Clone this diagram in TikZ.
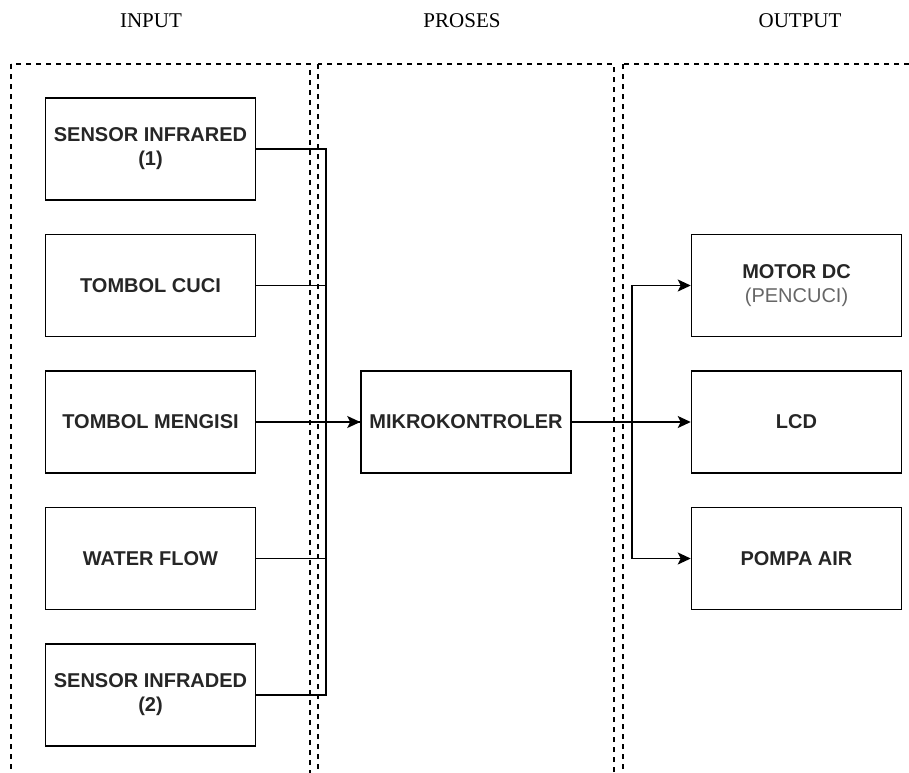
\documentclass[tikz,border=0pt]{standalone}
\usepackage{fontspec}
\setmainfont{Liberation Serif}
\setsansfont{Liberation Sans}
\usepackage{tikz}
\usetikzlibrary{arrows.meta,positioning}
\tikzset{
    kotak/.style={
        rectangle,
        draw,
        line width=1.5pt,
        align=center,
        minimum width=210pt,
        minimum height=102pt,
        inner sep=2pt,
        text=black!85,
        font=\sffamily\bfseries\fontsize{20}{24}\selectfont
    },
    judul/.style={font=\fontsize{21}{25}\selectfont},
    panel/.style={draw, line width=1.3pt, dash pattern=on 5pt off 5pt},
    garis/.style={line width=1.6pt},
    panah/.style={garis, -{Stealth[length=13pt, width=12pt, inset=3pt]}}
}

\begin{document}
\begin{tikzpicture}[
        x=1pt, y=-1pt,
        node distance=33pt and 104pt
    ]
        \useasboundingbox (0,0) rectangle (909,772);
        \clip (0,0) rectangle (909,772);

        % kolom
        \draw[panel] (11,64) rectangle (310,800);
        \draw[panel] (318,64) rectangle (614,800);
        \draw[panel] (623,64) rectangle (990,800);
        \node[judul] (jinput) at (151,21) {INPUT};
        \node[judul] (jproses) at (462,21) {PROSES};
        \node[judul] (joutput) at (800,21) {OUTPUT};

        % input
        \node[kotak] (ir1) at (150.5,149) {SENSOR INFRARED\\(1)};
        \node[kotak, below=of ir1] (cuci) {TOMBOL CUCI};
        \node[kotak, below=of cuci] (isi) {TOMBOL MENGISI};
        \node[kotak, below=of isi] (flow) {WATER FLOW};
        \node[kotak, below=of flow] (ir2) {SENSOR INFRADED\\(2)};

        % proses
        \node[kotak, right=of isi] (mikro) {MIKROKONTROLER};

        % output
        \node[kotak, right=119pt of mikro] (lcd) {LCD};
        \node[kotak, above=of lcd] (motor) {MOTOR DC\\{\mdseries\color{black!60}(PENCUCI)}};
        \node[kotak, below=of lcd] (pompa) {POMPA AIR};

        \draw[garis] (ir1.east) -- ++(70,0) |- (mikro.west);
        \draw[garis] (cuci.east) -- ++(70,0) |- (mikro.west);
        \draw[garis] (flow.east) -- ++(70,0) |- (mikro.west);
        \draw[garis] (ir2.east) -- ++(70,0) |- (mikro.west);
        \draw[panah] (isi) -- (mikro);

        \draw[panah] (mikro) -- (lcd);
        \draw[panah] (mikro.east) -- ++(60,0) |- (motor.west);
        \draw[panah] (mikro.east) -- ++(60,0) |- (pompa.west);
    \end{tikzpicture}
\end{document}
